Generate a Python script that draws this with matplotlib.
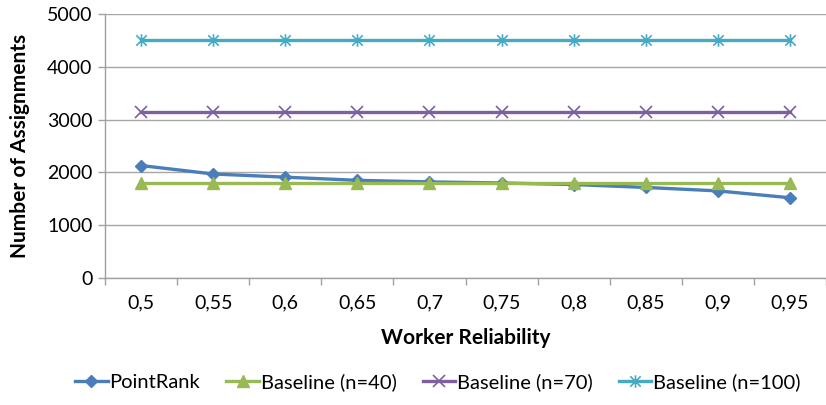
import matplotlib.pyplot as plt
from matplotlib.path import Path

reliability = ['0,5', '0,55', '0,6', '0,65', '0,7', '0,75', '0,8', '0,85', '0,9', '0,95']
point_rank = [2130, 1970, 1910, 1850, 1820, 1800, 1770, 1715, 1650, 1520]
baseline_40 = [1800] * 10
baseline_70 = [3150] * 10
baseline_100 = [4500] * 10

# excel style star marker: x with a vertical bar
star = Path([(-1, -1), (1, 1), (-1, 1), (1, -1), (0, -1.2), (0, 1.2)],
            [Path.MOVETO, Path.LINETO, Path.MOVETO, Path.LINETO, Path.MOVETO, Path.LINETO])

plt.rcParams['font.family'] = ['Lato', 'DejaVu Sans']

fig = plt.figure(figsize=(8.26, 4.05), dpi=100)
ax = fig.add_axes([105 / 826, 1 - 278 / 405, 1 - 105 / 826, (278 - 14) / 405])

x = list(range(len(reliability)))
ax.plot(x, point_rank, color='#4A7EBB', lw=2.4, marker='D', ms=6, label='PointRank')
ax.plot(x, baseline_40, color='#98B954', lw=2.4, marker='^', ms=8, label='Baseline (n=40)')
ax.plot(x, baseline_70, color='#7D60A0', lw=2.4, marker='x', ms=8, mew=1.2, label='Baseline (n=70)')
ax.plot(x, baseline_100, color='#46AAC5', lw=2.4, marker=star, ms=9, mew=1.2, label='Baseline (n=100)')

ax.set_ylim(0, 5000)
ax.set_yticks(range(0, 5001, 1000))
ax.set_xlim(-0.5, -0.5 + (826 - 105) / 72.5)
ax.set_xticks([i - 0.5 for i in range(len(reliability) + 1)])
ax.set_xticklabels([])
ax.set_xticks(x, minor=True)
ax.set_xticklabels(reliability, minor=True)
ax.tick_params(axis='x', which='minor', length=0, pad=12, labelsize=14)
ax.tick_params(axis='x', which='major', length=5, color='#A0A0A0', width=1)
ax.tick_params(axis='y', length=5, color='#A0A0A0', width=1, labelsize=14, pad=4)
ax.grid(axis='y', color='#A6A6A6', lw=1)
ax.set_axisbelow(True)
for side in ['top', 'right']:
    ax.spines[side].set_visible(False)
for side in ['left', 'bottom']:
    ax.spines[side].set_color('#A0A0A0')
    ax.spines[side].set_linewidth(1)
ax.spines['bottom'].set_zorder(0.5)

ax.set_xlabel('Worker Reliability', fontsize=15, fontweight='bold', labelpad=12)
ax.set_ylabel('Number of Assignments', fontsize=15, fontweight='bold', labelpad=12)

fig.legend(loc='center', bbox_to_anchor=(0.5 + 25 / 826, 1 - 382 / 405), ncol=4, frameon=False,
           fontsize=14.5, handlelength=1.6, handletextpad=0.1, columnspacing=1.3)

fig.savefig('out.png', dpi=100)
